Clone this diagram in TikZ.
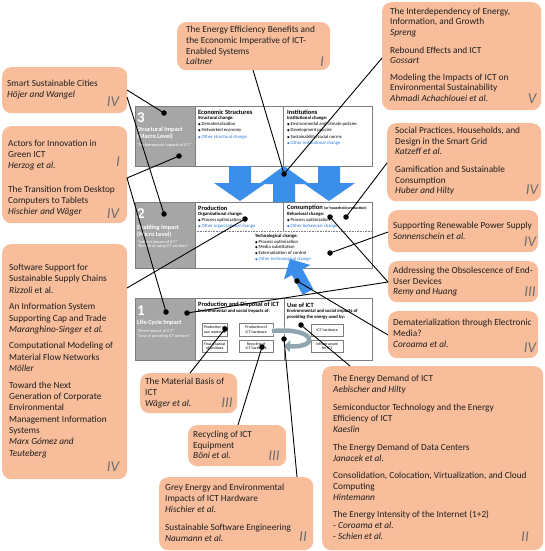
\documentclass[tikz,border=0pt]{standalone}
\usepackage{fontspec}
\setmainfont{Carlito}
\newfontfamily\dejavu{DejaVu Sans}
\usetikzlibrary{arrows.meta}
\definecolor{orangebox}{HTML}{F8BD9B}
\definecolor{graycell}{HTML}{A6A6A6}
\definecolor{bluearrow}{HTML}{3B8FEA}
\definecolor{bluetext}{HTML}{2E7BDB}
\definecolor{numgray}{HTML}{6F6F6F}
\definecolor{cellframe}{HTML}{7F7F7F}
\definecolor{circarrow}{HTML}{8FA5AF}
\definecolor{txt}{HTML}{1E1E1E}
\newcommand{\bul}{{\dejavu\fontsize{3.4}{3.4}\selectfont ◆}\hspace{0.8pt}}
\tikzset{
  callout/.style={fill=orangebox, rounded corners=9pt, anchor=north west, inner sep=0pt, draw=none},
  ctext/.style={anchor=north west, align=left, inner sep=0pt, text=txt, font=\fontsize{9.3}{#1}\selectfont},
  ctext/.default=11,
  partnum/.style={inner sep=0pt, text=numgray, font=\fontsize{15}{15}\selectfont\itshape},
  gcell/.style={fill=graycell, draw=cellframe, line width=0.5pt, anchor=north west, inner sep=0pt},
  wcell/.style={fill=white, draw=cellframe, line width=0.5pt, anchor=north west, inner sep=0pt},
  smallbox/.style={fill=white, draw=cellframe, line width=0.4pt, anchor=north west, inner sep=0pt, align=center, font=\fontsize{3.9}{4.6}\selectfont},
  bignum/.style={anchor=west, inner sep=0pt, text=white, font=\bfseries\fontsize{15}{15}\selectfont},
  graytx/.style={anchor=west, inner sep=0pt, text=white, font=\bfseries\fontsize{6.3}{6.3}\selectfont},
  grayq/.style={anchor=west, inner sep=0pt, text=white, font=\fontsize{4.2}{4.2}\selectfont},
  hd/.style={anchor=west, inner sep=0pt, text=black, font=\bfseries\fontsize{6.4}{6.4}\selectfont},
  sb/.style={anchor=west, inner sep=0pt, text=black, font=\bfseries\fontsize{4.7}{4.7}\selectfont},
  itm/.style={anchor=west, inner sep=0pt, text=black, font=\fontsize{4.7}{4.7}\selectfont},
  bitm/.style={itm, text=bluetext},
  blackdot/.style={circle, fill=black, inner sep=0pt, minimum size=5.5pt},
  conn/.style={draw=black, line width=0.9pt},
  bigarrow/.style={fill=bluearrow, draw=none},
}
\begin{document}
\begin{tikzpicture}[x=1pt,y=-1pt]
\useasboundingbox[fill=white] (0,0) rectangle (544,551);

% ---------------- callouts ----------------
\node[callout, minimum width=125pt, minimum height=46pt] (c1) at (2,67) {};
\node[ctext] (t1) at (7,80) {Smart Sustainable Cities\\\textit{Höjer and Wangel}};
\node[partnum] (r1) at (113,102) {IV};

\node[callout, minimum width=125pt, minimum height=97pt] (c2) at (2,126) {};
\node[ctext] (t2) at (8,140) {Actors for Innovation in\\Green ICT\\\textit{Herzog et al.}\\[13pt]The Transition from Desktop\\Computers to Tablets\\\textit{Hischier and Wäger}};
\node[partnum] (r2a) at (118,162) {I};
\node[partnum] (r2b) at (113,214) {IV};

\node[callout, minimum width=125pt, minimum height=235pt] (c3) at (2,244) {};
\node[ctext=11.3] (t3) at (9,264) {Software Support for\\Sustainable Supply Chains\\\textit{Rizzoli} et al.\\[5.5pt]An Information System\\Supporting Cap and Trade\\\textit{Maranghino-Singer et al.}\\[5pt]Computational Modeling of\\Material Flow Networks\\\textit{Möller}\\[5.5pt]Toward the Next\\Generation of Corporate\\Environmental\\Management Information\\Systems\\\textit{Marx Gómez and}\\\textit{Teuteberg}};
\node[partnum] (r3) at (113,467) {IV};

\node[callout, minimum width=153pt, minimum height=48pt] (c4) at (177,22) {};
\node[ctext=10.7] (t4) at (186,26) {The Energy Efficiency Benefits and\\the Economic Imperative of ICT-\\Enabled Systems\\\textit{Laitner}};
\node[partnum] (r4) at (322,62) {I};

\node[callout, minimum width=159pt, minimum height=108pt] (c5) at (382,2) {};
\node[ctext=10.3] (t5) at (390,8) {The Interdependency of Energy,\\Information, and Growth\\\textit{Spreng}\\[8pt]Rebound Effects and ICT\\\textit{Gossart}\\[6.5pt]Modeling the Impacts of ICT on\\Environmental Sustainability\\\textit{Ahmadi Achachlouei et al.}};
\node[partnum] (r5) at (532,99) {V};

\node[callout, minimum width=154pt, minimum height=78pt] (c6) at (387,123) {};
\node[ctext=10.5] (t6) at (395,127) {Social Practices, Households, and\\Design in the Smart Grid\\\textit{Katzeff et al.}\\[7.5pt]Gamification and Sustainable\\Consumption\\\textit{Huber and Hilty}};
\node[partnum] (r6) at (532,190) {IV};

\node[callout, minimum width=150pt, minimum height=42pt] (c7) at (388,210) {};
\node[ctext] (t7) at (393,222) {Supporting Renewable Power Supply\\\textit{Sonnenschein et al.}};
\node[partnum] (r7) at (530,242) {IV};

\node[callout, minimum width=150pt, minimum height=41pt] (c8) at (388,261) {};
\node[ctext=10.5] (t8) at (393,267) {Addressing the Obsolescence of End-\\User Devices\\\textit{Remy and Huang}};
\node[partnum] (r8) at (530,292) {III};

\node[callout, minimum width=150pt, minimum height=47pt] (c9) at (388,311) {};
\node[ctext] (t9) at (393,319) {Dematerialization through Electronic\\Media?\\\textit{Coroama et al.}};
\node[partnum] (r9) at (530,348) {IV};

\node[callout, minimum width=221pt, minimum height=184pt] (c10) at (322,366) {};
\node[ctext] (t10) at (333,375) {The Energy Demand of ICT\\\textit{Aebischer and Hilty}\\[7pt]Semiconductor Technology and the Energy\\Efficiency of ICT\\\textit{Kaeslin}\\[7pt]The Energy Demand of Data Centers\\\textit{Janacek et al.}\\[6pt]Consolidation, Colocation, Virtualization, and Cloud\\Computing\\\textit{Hintemann}\\[6pt]The Energy Intensity of the Internet (1+2)\\- \textit{Coroama et al.}\\- \textit{Schien et al.}};
\node[partnum] (r10) at (525,537) {II};

\node[callout, minimum width=97pt, minimum height=40pt] (c11) at (140,373) {};
\node[ctext] (t11) at (145,378) {The Material Basis of\\ICT\\\textit{Wäger et al.}};
\node[partnum] (r11) at (227,403) {III};

\node[callout, minimum width=98pt, minimum height=41pt] (c12) at (188,425) {};
\node[ctext=10.5] (t12) at (193,431) {Recycling of ICT\\Equipment\\\textit{Böni et al.}};
\node[partnum] (r12) at (274,456) {III};

\node[callout, minimum width=154pt, minimum height=73pt] (c13) at (159,477) {};
\node[ctext] (t13) at (165,484) {Grey Energy and Environmental\\Impacts of ICT Hardware\\\textit{Hischier et al.}\\[7pt]Sustainable Software Engineering\\\textit{Naumann et al.}};
\node[partnum] (r13) at (303,537) {II};

% ---------------- level 3 ----------------
\node[gcell, minimum width=60pt, minimum height=60pt] (g3) at (135,106) {};
\node[wcell, minimum width=88pt, minimum height=60pt] (econ) at (195,106) {};
\node[wcell, minimum width=89pt, minimum height=60pt] (inst) at (283,106) {};
\node[bignum] (n3) at (137,118) {3};
\node[graytx] (s3a) at (137,130) {Structural Impact};
\node[graytx] (s3b) at (137,137) {(Macro Level)};
\node[grayq] (s3c) at (137,145) {“Socioeconomic impacts of ICT”};
\node[hd] (h3a) at (198,112) {Economic Structures};
\node[sb] (b3a) at (198,118) {Structural change:};
\node[itm] (i3a1) at (198,124.5) {\bul Dematerialization};
\node[itm] (i3a2) at (198,130.7) {\bul Networked economy};
\node[bitm] (i3a3) at (198,136.9) {\bul Other structural change};
\node[hd] (h3b) at (287,112) {Institutions};
\node[sb] (b3b) at (287,118) {Institutional change:};
\node[itm] (i3b1) at (287,124.5) {\bul Environmental and climate policies};
\node[itm] (i3b2) at (287,130.7) {\bul Development policies};
\node[itm] (i3b3) at (287,136.9) {\bul Sustainability/social norms};
\node[bitm] (i3b4) at (287,143.1) {\bul Other institutional change};

% ---------------- level 2 ----------------
\node[gcell, minimum width=60pt, minimum height=66pt] (g2) at (135,202) {};
\node[wcell, minimum width=177pt, minimum height=66pt] (lev2) at (195,202) {};
\draw[cellframe, line width=0.5pt] (283,202) -- (283,231);
\draw[cellframe, line width=0.6pt, densely dotted] (195,231) -- (372,231);
\node[bignum] (n2) at (137,214) {2};
\node[graytx] (s2a) at (137,228) {Enabling Impact};
\node[graytx] (s2b) at (137,234.5) {(Micro Level)};
\node[grayq] (s2c) at (137,242) {“Indirect impact of ICT”};
\node[grayq] (s2d) at (137,246.5) {“Benefit of using ICT services”};
\node[hd] (h2a) at (198,208) {Production};
\node[sb] (b2a) at (198,214) {Organizational change:};
\node[itm] (i2a1) at (198,220.3) {\bul Process optimization};
\node[bitm] (i2a2) at (198,226.6) {\bul Other organizational change};
\node[hd] (h2b) at (287,208) {Consumption {\fontsize{3.9}{3.9}\selectfont (or household production)}};
\node[sb] (b2b) at (287,214) {Behavioral change:};
\node[itm] (i2b1) at (287,220.3) {\bul Process optimization};
\node[bitm] (i2b2) at (287,226.6) {\bul Other behavioral change};
\node[sb] (b2c) at (255,236) {Technological change:};
\node[itm] (i2c1) at (255,241.8) {\bul Process optimization};
\node[itm] (i2c2) at (255,247.5) {\bul Media substitution};
\node[itm] (i2c3) at (255,253.2) {\bul Externalization of control};
\node[bitm] (i2c4) at (255,259) {\bul Other technological change};

% ---------------- level 1 ----------------
\node[gcell, minimum width=60pt, minimum height=62pt] (g1) at (135,298) {};
\node[wcell, minimum width=89pt, minimum height=62pt] (pd) at (195,298) {};
\node[wcell, minimum width=88pt, minimum height=62pt] (use) at (284,298) {};
\node[bignum] (n1) at (137,311) {1};
\node[graytx] (s1a) at (137,323) {Life-Cycle Impact};
\node[grayq] (s1b) at (137,331) {“Direct impact of ICT”};
\node[grayq] (s1c) at (137,336) {“Cost of providing ICT services”};
\node[hd] (h1a) at (198,305) {Production and Disposal of ICT};
\node[sb] (b1a) at (198,311) {Environmental and social impacts of:};
\node[hd] (h1b) at (287,305) {Use of ICT};
\node[sb] (b1b) at (287,311) {Environmental and social impacts of};
\node[sb] (b1c) at (287,317) {providing the energy used by:};
\node[smallbox, minimum width=25pt, minimum height=13pt] (sbx1) at (202,323) {Production of\\raw materials};
\node[smallbox, minimum width=34pt, minimum height=13pt] (sbx2) at (239,323) {Production of\\ICT hardware};
\node[smallbox, minimum width=25pt, minimum height=12pt] (sbx3) at (202,340) {Final disposal\\of residues};
\node[smallbox, minimum width=34pt, minimum height=12pt] (sbx4) at (239,340) {Recycling of\\ICT hardware};
\node[smallbox, minimum width=32pt, minimum height=12pt] (sbx5) at (311,324) {ICT hardware};
\node[smallbox, minimum width=32pt, minimum height=12pt] (sbx6) at (311,340) {Infrastructure\\for ICT};
\draw[white, line width=6pt] (272,331) .. controls (316,327) and (320,348) .. (284,346);
\draw[circarrow, line width=4.5pt, -{Triangle[length=6pt,width=12pt]}] (272,331) .. controls (316,327) and (320,348) .. (284,346);

% ---------------- blue arrows ----------------
\fill[bigarrow] (229,166) -- (251,166) -- (251,183) -- (266,183) -- (240,201) -- (214,183) -- (229,183) -- cycle;
\fill[bigarrow] (284,166) -- (309,184) -- (295,184) -- (295,202) -- (273,202) -- (273,184) -- (259,184) -- cycle;
\fill[bigarrow] (318,166) -- (340,166) -- (340,183) -- (355,183) -- (329,201) -- (303,183) -- (318,183) -- cycle;
\fill[bigarrow] (290,259) -- (310.4,265.0) -- (302.5,269.3) -- (313.3,289.1) -- (302.7,294.9) -- (291.9,275.1) -- (284.0,279.4) -- cycle;

% ---------------- dots ----------------
\node[blackdot] (dL3a) at (164,113) {};
\node[blackdot] (dL3b) at (179,156) {};
\node[blackdot] (dL2g) at (164,214) {};
\node[blackdot] (dL1g) at (166,312) {};
\node[blackdot] (dL1h) at (187,313) {};
\node[blackdot] (dprod) at (245,219) {};
\node[blackdot] (dcons1) at (330,217) {};
\node[blackdot] (dcons2) at (346,217) {};
\node[blackdot] (dtech) at (330,253) {};
\node[blackdot] (dup) at (284,174) {};
\node[blackdot] (dblue) at (297,281) {};
\node[blackdot] (duse) at (301,325) {};
\node[blackdot] (draw) at (225,329) {};
\node[blackdot] (drec) at (262,347) {};
\node[blackdot] (dcirc) at (284,339) {};

% ---------------- connector ends ----------------
\coordinate (e1a) at (127,90);
\coordinate (e1b) at (127,97);
\coordinate (e2) at (127,178);
\coordinate (e3) at (127,288);
\coordinate (e4) at (253,70);
\coordinate (e5) at (382,58);
\coordinate (e6) at (387,163);
\coordinate (e7) at (388,232);
\coordinate (e8) at (388,282);
\coordinate (e9) at (388,335);
\coordinate (e10) at (350,366);
\coordinate (e11) at (190,373);
\coordinate (e12) at (238,425);
\coordinate (e13) at (297,477);

\draw[conn] (e1a) -- (dL3a.center);
\draw[conn] (e1b) -- (dL2g.center);
\draw[conn] (e2) -- (dL3b.center);
\draw[conn] (e2) -- (dL1g.center);
\draw[conn] (e3) -- (dprod.center);
\draw[conn] (e4) -- (dup.center);
\draw[conn] (e5) -- (dup.center);
\draw[conn] (e6) -- (dcons2.center);
\draw[conn] (e7) -- (dtech.center);
\draw[conn] (e8) -- (dcons1.center);
\draw[conn] (e8) -- (dL1h.center);
\draw[conn] (e9) -- (dblue.center);
\draw[conn] (e10) -- (duse.center);
\draw[conn] (e11) -- (draw.center);
\draw[conn] (e12) -- (drec.center);
\draw[conn] (e13) -- (dcirc.center);
\end{tikzpicture}
\end{document}
